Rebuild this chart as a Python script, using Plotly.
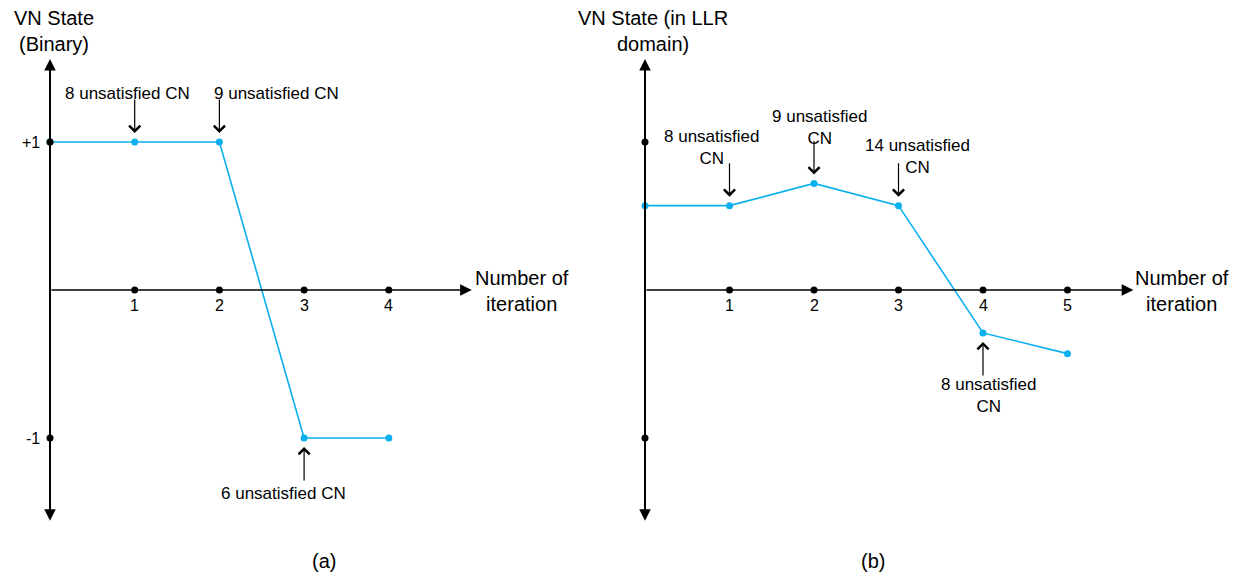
import plotly.graph_objects as go

# ---- data -------------------------------------------------------------
iter_a = [0, 1, 2, 3, 4]
state_a = [1, 1, 1, -1, -1]

iter_b = [0, 1, 2, 3, 4, 5]
state_b = [0.57, 0.57, 0.72, 0.57, -0.29, -0.43]

ticks_a = [1, 2, 3, 4]
ticks_b = [1, 2, 3, 4, 5]
levels = [1, -1]
level_labels_a = ["+1", "-1"]

# (iteration index on the curve, label, arrow direction)
notes_a = [
    (1, "8 unsatisfied CN", "down"),
    (2, "9 unsatisfied CN", "down"),
    (3, "6 unsatisfied CN", "up"),
]
notes_b = [
    (1, "8 unsatisfied<br>CN", "down"),
    (2, "9 unsatisfied<br>CN", "down"),
    (3, "14 unsatisfied<br>CN", "down"),
    (4, "8 unsatisfied<br>CN", "up"),
]

# ---- geometry ---------------------------------------------------------
W, H = 1238, 585
FONT = "Liberation Sans, Arial, sans-serif"
BLUE = "#0AB0EE"

ORIGIN_Y = 290          # pixel row of the horizontal axis
UNIT_Y = 148            # pixels per state unit
ORIGIN_A, UNIT_A = 50, 84.7
ORIGIN_B, UNIT_B = 645, 84.5
SPLIT = 619

y_range = [-(H - ORIGIN_Y) / UNIT_Y, ORIGIN_Y / UNIT_Y]
xa_range = [-ORIGIN_A / UNIT_A, (SPLIT - ORIGIN_A) / UNIT_A]
xb_range = [-(ORIGIN_B - SPLIT) / UNIT_B, (W - ORIGIN_B) / UNIT_B]

Y_TOP, Y_BOT = 1.56, -1.57     # vertical axis extents (state units)
XA_END, XB_END = 4.98, 5.78    # horizontal axis arrow tips (iterations)

fig = go.Figure()

# value curves
fig.add_trace(go.Scatter(x=iter_a, y=state_a, mode="lines+markers",
                         line=dict(color=BLUE, width=1.6),
                         marker=dict(color=BLUE, size=7),
                         xaxis="x", yaxis="y", hoverinfo="skip"))
fig.add_trace(go.Scatter(x=iter_b, y=state_b, mode="lines+markers",
                         line=dict(color=BLUE, width=1.6),
                         marker=dict(color=BLUE, size=7),
                         xaxis="x2", yaxis="y2", hoverinfo="skip"))

# black tick dots on both axes
fig.add_trace(go.Scatter(x=ticks_a + [0] * len(levels), y=[0] * len(ticks_a) + levels,
                         mode="markers", marker=dict(color="black", size=7),
                         xaxis="x", yaxis="y", hoverinfo="skip"))
fig.add_trace(go.Scatter(x=ticks_b + [0] * len(levels), y=[0] * len(ticks_b) + levels,
                         mode="markers", marker=dict(color="black", size=7),
                         xaxis="x2", yaxis="y2", hoverinfo="skip"))

ann = []


def axes_arrows(xr, yr, x_end):
    # vertical axis with heads at both ends
    ann.append(dict(x=0, y=Y_TOP, ax=0, ay=Y_BOT, xref=xr, yref=yr, axref=xr, ayref=yr,
                    text="", showarrow=True, arrowside="end+start",
                    arrowhead=2, startarrowhead=2, arrowwidth=2, arrowsize=1.15,
                    startarrowsize=1.15, arrowcolor="black"))
    # horizontal axis
    ann.append(dict(x=x_end, y=0, ax=0, ay=0, xref=xr, yref=yr, axref=xr, ayref=yr,
                    text="", showarrow=True, arrowhead=2, arrowwidth=1.3,
                    arrowsize=1.8, arrowcolor="black"))


axes_arrows("x", "y", XA_END)
axes_arrows("x2", "y2", XB_END)

txt = dict(family=FONT, size=17, color="black")
ttl = dict(family=FONT, size=20, color="black")

# tick labels
for t in ticks_a:
    ann.append(dict(x=t, y=0, xref="x", yref="y", text=str(t), showarrow=False,
                    yshift=-15, font=dict(family=FONT, size=16, color="black")))
for t in ticks_b:
    ann.append(dict(x=t, y=0, xref="x2", yref="y2", text=str(t), showarrow=False,
                    yshift=-15, font=dict(family=FONT, size=16, color="black")))
for v, lab in zip(levels, level_labels_a):
    ann.append(dict(x=0, y=v, xref="x", yref="y", text=lab, showarrow=False,
                    xanchor="right", xshift=-8,
                    font=dict(family=FONT, size=16, color="black")))

# axis titles
ann.append(dict(x=0.05, y=1.747, xref="x", yref="y", text="VN State<br>(Binary)",
                showarrow=False, font=ttl))
ann.append(dict(x=0.09, y=1.747, xref="x2", yref="y2", text="VN State (in LLR<br>domain)",
                showarrow=False, font=ttl))
ann.append(dict(x=5.57, y=-0.01, xref="x", yref="y", text="Number of<br>iteration",
                showarrow=False, font=ttl))
ann.append(dict(x=6.36, y=-0.01, xref="x2", yref="y2", text="Number of<br>iteration",
                showarrow=False, font=ttl))

# annotation arrows pointing at the curve points
def note_arrows(xr, yr, xs, ys, notes):
    for i, _, d in notes:
        ann.append(dict(x=xs[i], y=ys[i], xref=xr, yref=yr, text="", showarrow=True,
                        ax=0, ay=-44 if d == "down" else 44, standoff=9,
                        arrowhead=4, arrowwidth=1.2, arrowsize=1.8, arrowcolor="black"))


note_arrows("x", "y", iter_a, state_a, notes_a)
note_arrows("x2", "y2", iter_b, state_b, notes_b)

# annotation texts (position in axis units)
pos_a = [(0.92, 1.331, "center"), (1.91, 1.331, "left"), (2.76, -1.372, "center")]
for (i, label, _), (px, py, anc) in zip(notes_a, pos_a):
    ann.append(dict(x=px, y=py, xref="x", yref="y", text=label, showarrow=False,
                    xanchor=anc, font=txt))
pos_b = [(0.79, 0.963), (2.06, 1.098), (3.23, 0.905), (4.06, -0.716)]
for (i, label, _), (px, py) in zip(notes_b, pos_b):
    ann.append(dict(x=px, y=py, xref="x2", yref="y2", text=label, showarrow=False,
                    font=txt))

# panel captions
ann.append(dict(x=310 / W, y=(H - 574) / H, xref="paper", yref="paper", text="(a)",
                showarrow=False, font=ttl))
ann.append(dict(x=887 / W, y=(H - 574) / H, xref="paper", yref="paper", text="(b)",
                showarrow=False, font=ttl))

hidden = dict(visible=False, showgrid=False, zeroline=False, fixedrange=True)
fig.update_layout(
    width=W, height=H,
    margin=dict(l=0, r=0, t=0, b=0),
    paper_bgcolor="white", plot_bgcolor="white",
    showlegend=False,
    annotations=ann,
    xaxis=dict(domain=[0, SPLIT / W], range=xa_range, **hidden),
    yaxis=dict(domain=[0, 1], range=y_range, **hidden),
    xaxis2=dict(domain=[SPLIT / W, 1], range=xb_range, **hidden),
    yaxis2=dict(domain=[0, 1], range=y_range, anchor="x2", **hidden),
)

fig.write_html("out.html", config=dict(displayModeBar=False))
